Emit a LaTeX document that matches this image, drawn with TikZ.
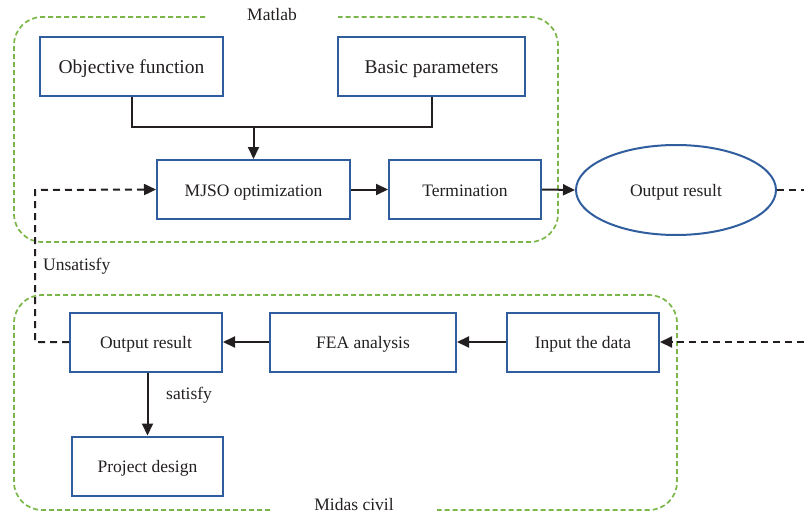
\documentclass[tikz,border=0pt]{standalone}
\usepackage{fontspec}
\setmainfont{Liberation Serif}
\usetikzlibrary{arrows.meta,shapes.geometric}
\definecolor{boxblue}{HTML}{2F5D9E}
\definecolor{grpgreen}{HTML}{7AB648}
\definecolor{txt}{HTML}{231F20}
\tikzset{
  box/.style={draw=boxblue, line width=2pt, minimum width=#1, minimum height=59pt, inner sep=0pt, text=txt, font=\fontsize{17.5}{20}\selectfont, text height=13pt, text depth=0pt},
  bigbox/.style={box=#1, font=\fontsize{19.5}{22}\selectfont, text height=14pt},
  grp/.style={draw=grpgreen, line width=1.7pt, dash pattern=on 5pt off 3pt, rounded corners=28pt},
  conn/.style={draw=txt, line width=2pt, -{Triangle[length=12pt,width=11pt]}},
  plain/.style={draw=txt, line width=2pt},
  dconn/.style={draw=txt, line width=2pt, dash pattern=on 7pt off 5pt, -{Triangle[length=12pt,width=11pt]}},
  dplain/.style={draw=txt, line width=2pt, dash pattern=on 7pt off 5pt},
  lbl/.style={text=txt, font=\fontsize{17.5}{20}\selectfont, inner sep=0pt}
}
\begin{document}
\begin{tikzpicture}[x=1pt,y=-1pt]
\useasboundingbox (0,0) rectangle (804,514);
% groups
\draw[grp] (205,17) -- (14,17) -- (14,242) -- (558,242) -- (558,17) -- (338,17);
\node[lbl] (matlab) at (272,15) {Matlab};
\draw[grp] (270,510) -- (14,510) -- (14,295) -- (677,295) -- (677,510) -- (437,510);
\node[lbl] (midas) at (354,505) {Midas civil};
% nodes
\node[bigbox=183pt] (obj) at (131.5,66) {Objective function};
\node[bigbox=187pt] (basic) at (431.5,66) {Basic parameters};
\node[box=193pt] (mjso) at (253.5,189.5) {MJSO optimization};
\node[box=152pt] (term) at (465,189.5) {Termination};
\node[ellipse, draw=boxblue, line width=2pt, minimum width=200pt, minimum height=90pt, inner sep=0pt, text=txt, font=\fontsize{17.5}{20}\selectfont, text height=13pt, text depth=0pt] (res) at (676,190) {Output result};
\node[box=152pt] (out) at (146,342) {Output result};
\node[box=186pt] (fea) at (363,342) {FEA analysis};
\node[box=152pt] (inp) at (583,342) {Input the data};
\node[box=151pt] (proj) at (147.5,466) {Project design};
\node[lbl, anchor=west] (unsat) at (43,266) {Unsatisfy};
\node[lbl, anchor=west] (sat) at (166,395) {satisfy};
% connectors
\coordinate (j) at (253.5,127);
\draw[plain] (obj.south) |- (j) -| (basic.south);
\draw[conn] (j) -- (mjso.north);
\draw[conn] (mjso.east) -- (term.west);
\draw[conn] (term.east) -- (res.west);
\coordinate (r1) at (804,190);
\draw[dplain] (res.east) -- (r1);
\coordinate (r2) at (804,342);
\draw[dconn] (r2) -- (inp.east);
\draw[conn] (inp.west) -- (fea.east);
\draw[conn] (fea.west) -- (out.east);
\draw[conn] (out.south -| proj.north) -- (proj.north);
\coordinate (lc) at (35,190);
\draw[dconn] (out.west) -| (lc) -- (mjso.west);
\end{tikzpicture}
\end{document}
